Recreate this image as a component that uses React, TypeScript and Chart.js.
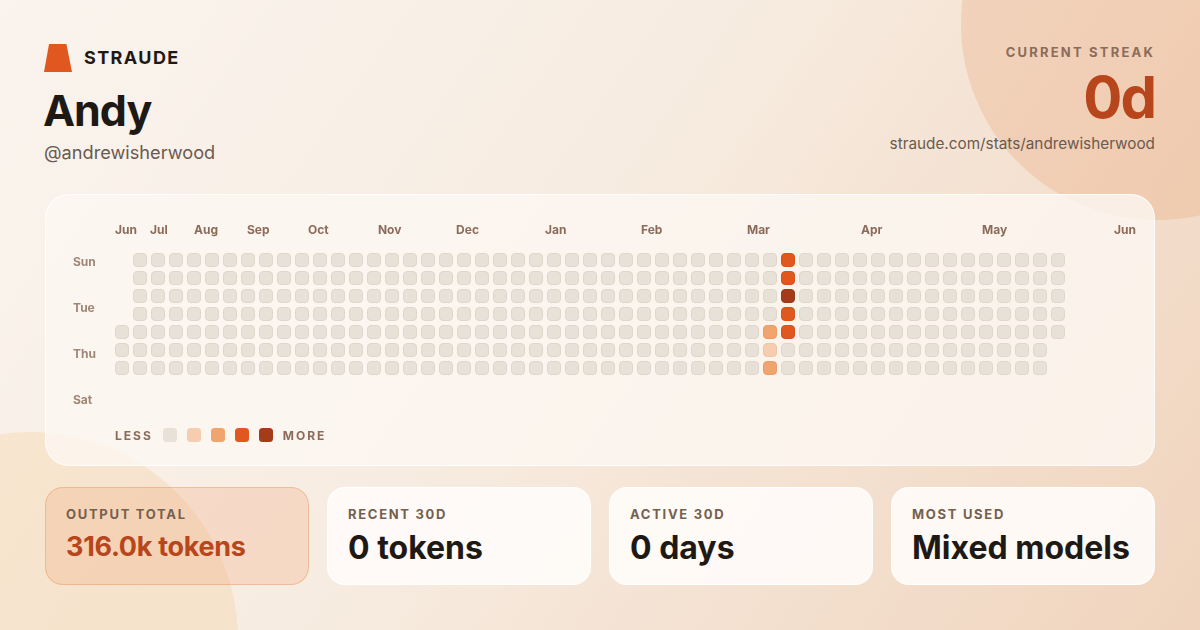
import React, { useEffect, useRef } from 'react';
import { Chart, registerables } from 'chart.js';

Chart.register(...registerables);

// ---- data ----
const weekCount = 53;
const firstWeekStartDay = 4; // first column begins on this row
const lastWeekEndDay = 4; // last column ends on this row
const activeWeeks = [36, 36, 36, 37, 37, 37, 37, 37];
const activeDays = [4, 5, 6, 0, 1, 2, 3, 4];
const activeLevels = [2, 1, 2, 3, 3, 4, 3, 3];
const levelColors = ['#e8e1d8', '#f6cdb0', '#f0a46e', '#e0581f', '#a43c1a'];
const levelBorders = ['#e0d7cc', '#f2c4a4', '#eb9c64', '#d9521b', '#9c3817'];
const monthLabels = ['Jun', 'Jul', 'Aug', 'Sep', 'Oct', 'Nov', 'Dec', 'Jan', 'Feb', 'Mar', 'Apr', 'May', 'Jun'];
const monthPositions = [-0.39, 1.56, 4.0, 6.94, 10.33, 14.22, 18.56, 23.5, 28.83, 34.72, 41.06, 47.78, 55.11];
const dayLabels = ['Sun', 'Tue', 'Thu', 'Sat'];
const dayPositions = [0, 2, 4, 6];
const statLabels = ['OUTPUT TOTAL', 'RECENT 30D', 'ACTIVE 30D', 'MOST USED'];
const statValues = ['316.0k tokens', '0 tokens', '0 days', 'Mixed models'];

const FONT = 'Inter, "Noto Sans", sans-serif';

function makeCell(fill: string, stroke: string) {
  const c = document.createElement('canvas');
  c.width = 14;
  c.height = 14;
  const g = c.getContext('2d')!;
  g.beginPath();
  if ((g as any).roundRect) (g as any).roundRect(0.5, 0.5, 13, 13, 3.5);
  else g.rect(0.5, 0.5, 13, 13);
  g.fillStyle = fill;
  g.fill();
  g.strokeStyle = stroke;
  g.lineWidth = 1;
  g.stroke();
  return c;
}

function Heatmap() {
  const ref = useRef<HTMLCanvasElement | null>(null);
  useEffect(() => {
    if (!ref.current) return;
    const cells = levelColors.map((c, i) => makeCell(c, levelBorders[i]));
    const points: { x: number; y: number; level: number }[] = [];
    for (let w = 0; w < weekCount; w++) {
      for (let d = 0; d < 7; d++) {
        if (w === 0 && d < firstWeekStartDay) continue;
        if (w === weekCount - 1 && d > lastWeekEndDay) continue;
        let level = 0;
        for (let k = 0; k < activeWeeks.length; k++) {
          if (activeWeeks[k] === w && activeDays[k] === d) level = activeLevels[k];
        }
        points.push({ x: w, y: d, level });
      }
    }
    const labelPlugin = {
      id: 'heatLabels',
      afterDatasetsDraw(chart: any) {
        const { ctx, chartArea, scales } = chart;
        ctx.save();
        ctx.font = `700 12px ${FONT}`;
        ctx.textBaseline = 'middle';
        ctx.textAlign = 'left';
        ctx.fillStyle = '#8b6b5a';
        monthLabels.forEach((m, i) => {
          ctx.fillText(m, scales.x.getPixelForValue(monthPositions[i]), chartArea.top - 21);
        });
        ctx.fillStyle = '#a08676';
        dayLabels.forEach((d, i) => {
          ctx.fillText(d, chartArea.left - 40, scales.yDay.getPixelForValue(dayPositions[i]) + 1);
        });
        ctx.restore();
      },
    };
    const chart = new Chart(ref.current, {
      type: 'scatter',
      data: {
        datasets: [
          {
            data: points as any,
            pointStyle: (c: any) => cells[(c.raw && c.raw.level) || 0],
            pointRadius: 7,
          } as any,
        ],
      },
      options: {
        animation: false,
        responsive: true,
        maintainAspectRatio: false,
        events: [],
        layout: { padding: { left: 68, right: 16, top: 57, bottom: 53 } },
        scales: {
          x: { type: 'linear', display: false, min: -0.5, max: 56.5 },
          y: { type: 'linear', display: false, reverse: true, min: -0.5, max: 8.5 },
          yDay: { type: 'linear', display: false, reverse: true, min: -10 / 23, max: 152 / 23 },
        },
        plugins: { legend: { display: false }, tooltip: { enabled: false } },
      },
      plugins: [labelPlugin],
    });
    return () => chart.destroy();
  }, []);
  return (
    <div style={{ position: 'absolute', left: 45, top: 194, width: 1110, height: 272 }}>
      <canvas ref={ref} />
    </div>
  );
}

export default function App() {
  const boxLeft = [45, 327, 609, 891];
  return (
    <div
      style={{
        position: 'absolute',
        left: 0,
        top: 0,
        width: 1200,
        height: 630,
        overflow: 'hidden',
        fontFamily: FONT,
        background: 'linear-gradient(125deg, #faf4ee 0%, #f7ece1 45%, #f0d4bd 100%)',
      }}
    >
      <div style={{ position: 'absolute', left: 1157 - 196, top: 24 - 196, width: 392, height: 392, borderRadius: '50%', background: 'rgba(232,150,100,0.25)' }} />
      <div style={{ position: 'absolute', left: 30 - 208, top: 640 - 208, width: 416, height: 416, borderRadius: '50%', background: 'rgba(245,200,145,0.28)' }} />

      {/* header */}
      <div style={{ position: 'absolute', left: 44, top: 44, width: 28, height: 28, background: '#e0581f', clipPath: 'polygon(18% 0, 80% 0, 100% 100%, 0 100%)' }} />
      <div style={{ position: 'absolute', left: 84, top: 46, fontSize: 18, fontWeight: 700, letterSpacing: 1.4, color: '#1f1915', lineHeight: '24px' }}>STRAUDE</div>
      <div style={{ position: 'absolute', left: 43, top: 85, fontSize: 43, fontWeight: 700, letterSpacing: -1, color: '#1f1915', lineHeight: '50px' }}>Andy</div>
      <div style={{ position: 'absolute', left: 44, top: 140, fontSize: 18.2, fontWeight: 400, color: '#6b5a50', lineHeight: '24px' }}>@andrewisherwood</div>

      <div style={{ position: 'absolute', right: 45, top: 44, fontSize: 13, fontWeight: 700, letterSpacing: 2.2, color: '#8b6b5a', lineHeight: '16px' }}>CURRENT STREAK</div>
      <div style={{ position: 'absolute', right: 45, top: 65, fontSize: 58, fontWeight: 700, letterSpacing: -2, color: '#b8461c', lineHeight: '64px' }}>0d</div>
      <div style={{ position: 'absolute', right: 45, top: 133, fontSize: 15.3, fontWeight: 400, color: '#6b5a50', lineHeight: '22px' }}>straude.com/stats/andrewisherwood</div>

      {/* heatmap panel */}
      <div style={{ position: 'absolute', left: 45, top: 194, width: 1108, height: 270, borderRadius: 24, background: 'rgba(253,248,242,0.8)', border: '1px solid rgba(255,255,255,0.8)' }} />
      <Heatmap />
      <div style={{ position: 'absolute', left: 115, top: 428, height: 14, display: 'flex', alignItems: 'center', fontSize: 12, fontWeight: 700, letterSpacing: 2, color: '#8b6b5a' }}>
        <span style={{ marginRight: 10 }}>LESS</span>
        {levelColors.map((c, i) => (
          <span key={i} style={{ width: 14, height: 14, borderRadius: 3.5, background: c, marginRight: 10, display: 'inline-block' }} />
        ))}
        <span>MORE</span>
      </div>

      {/* stat boxes */}
      {statLabels.map((l, i) => (
        <div
          key={i}
          style={{
            position: 'absolute',
            left: boxLeft[i],
            top: 487,
            width: 262,
            height: 96,
            borderRadius: 18,
            background: i === 0 ? 'rgba(238,160,110,0.25)' : 'rgba(255,252,249,0.9)',
            border: i === 0 ? '1px solid rgba(232,150,100,0.45)' : '1px solid rgba(255,255,255,0.9)',
          }}
        >
          <div style={{ position: 'absolute', left: 20, top: 18, fontSize: 13, fontWeight: 700, letterSpacing: 1.7, color: '#74604f', lineHeight: '16px' }}>{l}</div>
          <div
            style={{
              position: 'absolute',
              left: 20,
              top: i === 0 ? 39 : 40,
              fontSize: i === 0 ? 27 : 32,
              fontWeight: 700,
              letterSpacing: i === 0 ? -0.3 : 0,
              color: i === 0 ? '#b8461c' : '#1f1915',
              lineHeight: '40px',
              whiteSpace: 'nowrap',
            }}
          >
            {statValues[i]}
          </div>
        </div>
      ))}
    </div>
  );
}
